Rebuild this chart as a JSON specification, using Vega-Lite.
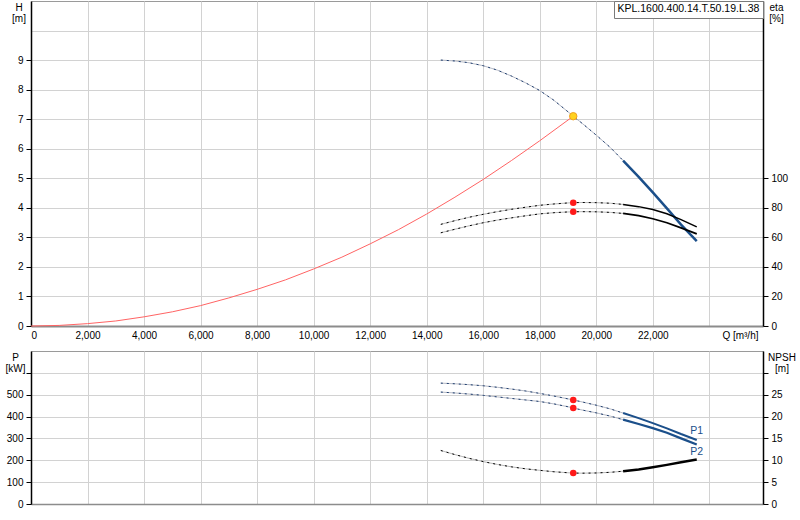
{
  "$schema": "https://vega.github.io/schema/vega-lite/v6.json",
  "background": "white",
  "padding": {"left": 4, "top": 0, "right": 2, "bottom": 2},
  "config": {
    "font": "Liberation Sans",
    "view": {"stroke": "#9a9a9a"},
    "axis": {
      "labelFontSize": 10,
      "labelColor": "#000",
      "titleFontSize": 10,
      "titleFontWeight": "normal",
      "titleColor": "#000",
      "gridColor": "#d2d2d2",
      "gridWidth": 1,
      "tickColor": "#000",
      "tickSize": 5,
      "domainColor": "#000",
      "domainWidth": 1.5
    }
  },
  "datasets": {
    "system": [
      {"Q": 0, "H": 0}, {"Q": 1000, "H": 0.02}, {"Q": 2000, "H": 0.08}, {"Q": 3000, "H": 0.17},
      {"Q": 4000, "H": 0.31}, {"Q": 5000, "H": 0.48}, {"Q": 6000, "H": 0.69}, {"Q": 7000, "H": 0.95},
      {"Q": 8000, "H": 1.24}, {"Q": 9000, "H": 1.56}, {"Q": 10000, "H": 1.93}, {"Q": 11000, "H": 2.33},
      {"Q": 12000, "H": 2.78}, {"Q": 13000, "H": 3.26}, {"Q": 14000, "H": 3.79}, {"Q": 15000, "H": 4.36},
      {"Q": 16000, "H": 4.96}, {"Q": 17000, "H": 5.6}, {"Q": 18000, "H": 6.27}, {"Q": 19186, "H": 7.1}
    ],
    "head": [
      {"Q": 14500, "H": 9.0, "part": "dashed"}, {"Q": 15000, "H": 8.97, "part": "dashed"},
      {"Q": 15500, "H": 8.91, "part": "dashed"}, {"Q": 16000, "H": 8.81, "part": "dashed"},
      {"Q": 16500, "H": 8.66, "part": "dashed"}, {"Q": 17000, "H": 8.46, "part": "dashed"},
      {"Q": 17500, "H": 8.23, "part": "dashed"}, {"Q": 18000, "H": 7.97, "part": "dashed"},
      {"Q": 18500, "H": 7.64, "part": "dashed"}, {"Q": 19000, "H": 7.25, "part": "dashed"},
      {"Q": 19186, "H": 7.1, "part": "dashed"}, {"Q": 19500, "H": 6.86, "part": "dashed"},
      {"Q": 20000, "H": 6.46, "part": "dashed"}, {"Q": 20500, "H": 6.04, "part": "dashed"},
      {"Q": 20950, "H": 5.6, "part": "dashed"},
      {"Q": 20950, "H": 5.6, "part": "solid"}, {"Q": 21500, "H": 5.05, "part": "solid"},
      {"Q": 22000, "H": 4.52, "part": "solid"}, {"Q": 22500, "H": 3.98, "part": "solid"},
      {"Q": 23000, "H": 3.43, "part": "solid"}, {"Q": 23556, "H": 2.87, "part": "solid"}
    ],
    "eta": [
      {"Q": 14500, "eta": 68.8, "curve": "eta1", "part": "dashed"}, {"Q": 15000, "eta": 71.3, "curve": "eta1", "part": "dashed"},
      {"Q": 15500, "eta": 73.6, "curve": "eta1", "part": "dashed"}, {"Q": 16000, "eta": 75.6, "curve": "eta1", "part": "dashed"},
      {"Q": 16500, "eta": 77.4, "curve": "eta1", "part": "dashed"}, {"Q": 17000, "eta": 79.0, "curve": "eta1", "part": "dashed"},
      {"Q": 17500, "eta": 80.4, "curve": "eta1", "part": "dashed"}, {"Q": 18000, "eta": 81.7, "curve": "eta1", "part": "dashed"},
      {"Q": 18500, "eta": 82.6, "curve": "eta1", "part": "dashed"}, {"Q": 19000, "eta": 83.3, "curve": "eta1", "part": "dashed"},
      {"Q": 19186, "eta": 83.5, "curve": "eta1", "part": "dashed"}, {"Q": 19500, "eta": 83.6, "curve": "eta1", "part": "dashed"},
      {"Q": 20000, "eta": 83.5, "curve": "eta1", "part": "dashed"}, {"Q": 20500, "eta": 83.1, "curve": "eta1", "part": "dashed"},
      {"Q": 20950, "eta": 82.3, "curve": "eta1", "part": "dashed"},
      {"Q": 20950, "eta": 82.3, "curve": "eta1", "part": "solid"}, {"Q": 21500, "eta": 80.8, "curve": "eta1", "part": "solid"},
      {"Q": 22000, "eta": 78.9, "curve": "eta1", "part": "solid"}, {"Q": 22500, "eta": 76.0, "curve": "eta1", "part": "solid"},
      {"Q": 23000, "eta": 72.0, "curve": "eta1", "part": "solid"}, {"Q": 23556, "eta": 67.1, "curve": "eta1", "part": "solid"},
      {"Q": 14500, "eta": 63.1, "curve": "eta2", "part": "dashed"}, {"Q": 15000, "eta": 65.5, "curve": "eta2", "part": "dashed"},
      {"Q": 15500, "eta": 67.8, "curve": "eta2", "part": "dashed"}, {"Q": 16000, "eta": 69.9, "curve": "eta2", "part": "dashed"},
      {"Q": 16500, "eta": 71.7, "curve": "eta2", "part": "dashed"}, {"Q": 17000, "eta": 73.2, "curve": "eta2", "part": "dashed"},
      {"Q": 17500, "eta": 74.6, "curve": "eta2", "part": "dashed"}, {"Q": 18000, "eta": 75.9, "curve": "eta2", "part": "dashed"},
      {"Q": 18500, "eta": 76.7, "curve": "eta2", "part": "dashed"}, {"Q": 19000, "eta": 77.2, "curve": "eta2", "part": "dashed"},
      {"Q": 19186, "eta": 77.3, "curve": "eta2", "part": "dashed"}, {"Q": 19500, "eta": 77.4, "curve": "eta2", "part": "dashed"},
      {"Q": 20000, "eta": 77.3, "curve": "eta2", "part": "dashed"}, {"Q": 20500, "eta": 76.9, "curve": "eta2", "part": "dashed"},
      {"Q": 20950, "eta": 76.2, "curve": "eta2", "part": "dashed"},
      {"Q": 20950, "eta": 76.2, "curve": "eta2", "part": "solid"}, {"Q": 21500, "eta": 74.7, "curve": "eta2", "part": "solid"},
      {"Q": 22000, "eta": 72.6, "curve": "eta2", "part": "solid"}, {"Q": 22500, "eta": 69.9, "curve": "eta2", "part": "solid"},
      {"Q": 23000, "eta": 66.4, "curve": "eta2", "part": "solid"}, {"Q": 23556, "eta": 62.4, "curve": "eta2", "part": "solid"}
    ],
    "power": [
      {"Q": 14500, "P": 553, "curve": "P1", "part": "dashed"}, {"Q": 15000, "P": 550, "curve": "P1", "part": "dashed"},
      {"Q": 15500, "P": 546, "curve": "P1", "part": "dashed"}, {"Q": 16000, "P": 541, "curve": "P1", "part": "dashed"},
      {"Q": 16500, "P": 534, "curve": "P1", "part": "dashed"}, {"Q": 17000, "P": 526, "curve": "P1", "part": "dashed"},
      {"Q": 17500, "P": 517, "curve": "P1", "part": "dashed"}, {"Q": 18000, "P": 506, "curve": "P1", "part": "dashed"},
      {"Q": 18500, "P": 494, "curve": "P1", "part": "dashed"}, {"Q": 19000, "P": 481, "curve": "P1", "part": "dashed"},
      {"Q": 19186, "P": 476, "curve": "P1", "part": "dashed"}, {"Q": 19500, "P": 467, "curve": "P1", "part": "dashed"},
      {"Q": 20000, "P": 452, "curve": "P1", "part": "dashed"}, {"Q": 20500, "P": 435, "curve": "P1", "part": "dashed"},
      {"Q": 20950, "P": 416, "curve": "P1", "part": "dashed"},
      {"Q": 20950, "P": 416, "curve": "P1", "part": "solid"}, {"Q": 21500, "P": 393, "curve": "P1", "part": "solid"},
      {"Q": 22000, "P": 370, "curve": "P1", "part": "solid"}, {"Q": 22500, "P": 346, "curve": "P1", "part": "solid"},
      {"Q": 23000, "P": 320, "curve": "P1", "part": "solid"}, {"Q": 23556, "P": 293, "curve": "P1", "part": "solid"},
      {"Q": 14500, "P": 512, "curve": "P2", "part": "dashed"}, {"Q": 15000, "P": 508, "curve": "P2", "part": "dashed"},
      {"Q": 15500, "P": 503, "curve": "P2", "part": "dashed"}, {"Q": 16000, "P": 497, "curve": "P2", "part": "dashed"},
      {"Q": 16500, "P": 490, "curve": "P2", "part": "dashed"}, {"Q": 17000, "P": 483, "curve": "P2", "part": "dashed"},
      {"Q": 17500, "P": 476, "curve": "P2", "part": "dashed"}, {"Q": 18000, "P": 469, "curve": "P2", "part": "dashed"},
      {"Q": 18500, "P": 458, "curve": "P2", "part": "dashed"}, {"Q": 19000, "P": 445, "curve": "P2", "part": "dashed"},
      {"Q": 19186, "P": 439, "curve": "P2", "part": "dashed"}, {"Q": 19500, "P": 430, "curve": "P2", "part": "dashed"},
      {"Q": 20000, "P": 417, "curve": "P2", "part": "dashed"}, {"Q": 20500, "P": 402, "curve": "P2", "part": "dashed"},
      {"Q": 20950, "P": 386, "curve": "P2", "part": "dashed"},
      {"Q": 20950, "P": 386, "curve": "P2", "part": "solid"}, {"Q": 21500, "P": 366, "curve": "P2", "part": "solid"},
      {"Q": 22000, "P": 347, "curve": "P2", "part": "solid"}, {"Q": 22500, "P": 326, "curve": "P2", "part": "solid"},
      {"Q": 23000, "P": 300, "curve": "P2", "part": "solid"}, {"Q": 23556, "P": 272, "curve": "P2", "part": "solid"}
    ],
    "npsh": [
      {"Q": 14500, "NPSH": 12.24, "part": "dashed"}, {"Q": 15000, "NPSH": 11.3, "part": "dashed"},
      {"Q": 15500, "NPSH": 10.45, "part": "dashed"}, {"Q": 16000, "NPSH": 9.7, "part": "dashed"},
      {"Q": 16500, "NPSH": 9.05, "part": "dashed"}, {"Q": 17000, "NPSH": 8.5, "part": "dashed"},
      {"Q": 17500, "NPSH": 8.05, "part": "dashed"}, {"Q": 18000, "NPSH": 7.7, "part": "dashed"},
      {"Q": 18500, "NPSH": 7.38, "part": "dashed"}, {"Q": 19000, "NPSH": 7.15, "part": "dashed"},
      {"Q": 19186, "NPSH": 7.08, "part": "dashed"}, {"Q": 19500, "NPSH": 7.05, "part": "dashed"},
      {"Q": 20000, "NPSH": 7.1, "part": "dashed"}, {"Q": 20500, "NPSH": 7.25, "part": "dashed"},
      {"Q": 20950, "NPSH": 7.5, "part": "dashed"},
      {"Q": 20950, "NPSH": 7.5, "part": "solid"}, {"Q": 21500, "NPSH": 7.9, "part": "solid"},
      {"Q": 22000, "NPSH": 8.4, "part": "solid"}, {"Q": 22500, "NPSH": 8.95, "part": "solid"},
      {"Q": 23000, "NPSH": 9.55, "part": "solid"}, {"Q": 23556, "NPSH": 10.2, "part": "solid"}
    ],
    "duty": [
      {"Q": 19186, "H": 7.1, "eta1": 83.5, "eta2": 77.3, "P1": 476, "P2": 439, "NPSH": 7.08, "model": "KPL.1600.400.14.T.50.19.L.38"}
    ]
  },
  "spacing": 25,
  "bounds": "flush",
  "resolve": {"scale": {"x": "independent", "y": "independent"}, "legend": {"shape": "independent"}},
  "vconcat": [
    {
      "width": 732,
      "height": 325,
      "encoding": {
        "x": {
          "field": "Q",
          "type": "quantitative",
          "scale": {"domain": [0, 25900], "nice": false, "zero": false},
          "axis": {
            "values": [0, 2000, 4000, 6000, 8000, 10000, 12000, 14000, 16000, 18000, 20000, 22000, 24000],
            "format": ",.0f",
            "labelExpr": "datum.value == 24000 ? '' : datum.label",
            "ticks": false,
            "labelPadding": 4,
            "domainColor": "#8c8c8c",
            "domainWidth": 2,
            "title": "Q [m³/h]",
            "titleX": 727,
            "titleY": 4,
            "titleAlign": "right",
            "titleBaseline": "top"
          }
        }
      },
      "layer": [
        {
          "encoding": {
            "y": {
              "field": "H",
              "type": "quantitative",
              "scale": {"domain": [0, 11], "nice": false},
              "axis": {
                "values": [0, 1, 2, 3, 4, 5, 6, 7, 8, 9, 10],
                "labelExpr": "datum.value == 10 ? '' : datum.label",
                "tickOpacity": {"condition": {"test": "datum.value == 10", "value": 0}, "value": 1},
                "labelPadding": 3,
                "title": ["H", "[m]"],
                "titleAngle": 0,
                "titleX": -12.5,
                "titleY": 1,
                "titleAlign": "center",
                "titleBaseline": "top",
                "titleLineHeight": 11.5
              }
            }
          },
          "layer": [
            {
              "data": {"name": "system"},
              "mark": {"type": "line", "color": "#ff6464", "strokeWidth": 1}
            },
            {
              "data": {"name": "head"},
              "transform": [{"filter": "datum.part == 'dashed'"}],
              "mark": {"type": "line", "color": "#b6bac6", "strokeWidth": 1}
            },
            {
              "data": {"name": "head"},
              "transform": [{"filter": "datum.part == 'dashed'"}],
              "mark": {"type": "line", "color": "#1f3f70", "strokeWidth": 1, "strokeDash": [2, 4]}
            },
            {
              "data": {"name": "head"},
              "transform": [{"filter": "datum.part == 'solid'"}],
              "mark": {"type": "line", "color": "#1b4f8a", "strokeWidth": 2.5}
            },
            {
              "data": {"name": "duty"},
              "mark": {"type": "point", "filled": true, "fill": "#ffd21f", "stroke": "#f0a020", "strokeWidth": 1, "size": 55, "opacity": 1},
              "encoding": {
                "shape": {
                  "field": "model",
                  "type": "nominal",
                  "scale": {"range": ["circle"]},
                  "legend": {
                    "title": null,
                    "orient": "top-right",
                    "offset": 0,
                    "padding": 3,
                    "strokeColor": "#7a7a7a",
                    "fillColor": "#ffffff",
                    "symbolSize": 0.01,
                    "symbolOpacity": 0,
                    "symbolStrokeWidth": 0.01,
                    "labelOffset": -10,
                    "labelFontSize": 10.5,
                    "labelLimit": 400,
                    "labelColor": "#000",
                    "encode": {"symbols": {"update": {"size": {"value": 0}, "opacity": {"value": 0}}}}
                  }
                }
              }
            }
          ]
        },
        {
          "encoding": {
            "y": {
              "field": "eta",
              "type": "quantitative",
              "scale": {"domain": [0, 220], "nice": false},
              "axis": {
                "orient": "right",
                "values": [0, 20, 40, 60, 80, 100],
                "grid": false,
                "labelPadding": 3,
                "title": ["eta", "[%]"],
                "titleAngle": 0,
                "titleX": 13,
                "titleY": 1,
                "titleAlign": "center",
                "titleBaseline": "top",
                "titleLineHeight": 11.5
              }
            }
          },
          "layer": [
            {
              "data": {"name": "eta"},
              "transform": [{"filter": "datum.part == 'dashed'"}],
              "mark": {"type": "line", "color": "#b8b8b8", "strokeWidth": 1},
              "encoding": {"detail": {"field": "curve"}}
            },
            {
              "data": {"name": "eta"},
              "transform": [{"filter": "datum.part == 'dashed'"}],
              "mark": {"type": "line", "color": "#000", "strokeWidth": 1, "strokeDash": [2, 4]},
              "encoding": {"detail": {"field": "curve"}}
            },
            {
              "data": {"name": "eta"},
              "transform": [{"filter": "datum.part == 'solid'"}],
              "mark": {"type": "line", "color": "#000"},
              "encoding": {
                "detail": {"field": "curve"},
                "strokeWidth": {"field": "curve", "type": "nominal", "scale": {"domain": ["eta1", "eta2"], "range": [1.5, 2.3]}, "legend": null}
              }
            },
            {
              "data": {"name": "duty"},
              "transform": [{"fold": ["eta1", "eta2"], "as": ["curve", "eta"]}],
              "mark": {"type": "point", "filled": true, "color": "#ff1a1a", "size": 42, "opacity": 1}
            }
          ]
        }
      ],
      "resolve": {"scale": {"y": "independent"}}
    },
    {
      "width": 732,
      "height": 153,
      "encoding": {
        "x": {
          "field": "Q",
          "type": "quantitative",
          "scale": {"domain": [0, 25900], "nice": false, "zero": false},
          "axis": {
            "values": [0, 2000, 4000, 6000, 8000, 10000, 12000, 14000, 16000, 18000, 20000, 22000, 24000],
            "labels": false,
            "ticks": false,
            "domainColor": "#8c8c8c",
            "domainWidth": 1.5,
            "title": null
          }
        }
      },
      "layer": [
        {
          "encoding": {
            "y": {
              "field": "P",
              "type": "quantitative",
              "scale": {"domain": [0, 700], "nice": false},
              "axis": {
                "values": [0, 100, 200, 300, 400, 500, 600],
                "labelExpr": "datum.value == 600 ? '' : datum.label",
                "labelPadding": 3,
                "title": ["P", "[kW]"],
                "titleAngle": 0,
                "titleX": -16,
                "titleY": 1,
                "titleAlign": "center",
                "titleBaseline": "top",
                "titleLineHeight": 11.5
              }
            }
          },
          "layer": [
            {
              "data": {"name": "power"},
              "transform": [{"filter": "datum.part == 'dashed'"}],
              "mark": {"type": "line", "color": "#b6bac6", "strokeWidth": 1},
              "encoding": {"detail": {"field": "curve"}}
            },
            {
              "data": {"name": "power"},
              "transform": [{"filter": "datum.part == 'dashed'"}],
              "mark": {"type": "line", "color": "#1f3f70", "strokeWidth": 1, "strokeDash": [2, 4]},
              "encoding": {"detail": {"field": "curve"}}
            },
            {
              "data": {"name": "power"},
              "transform": [{"filter": "datum.part == 'solid'"}],
              "mark": {"type": "line", "color": "#1b4f8a"},
              "encoding": {
                "detail": {"field": "curve"},
                "strokeWidth": {"field": "curve", "type": "nominal", "scale": {"domain": ["P1", "P2"], "range": [2.5, 1.5]}, "legend": null}
              }
            },
            {
              "data": {"name": "duty"},
              "transform": [{"fold": ["P1", "P2"], "as": ["curve", "P"]}],
              "mark": {"type": "point", "filled": true, "color": "#ff1a1a", "size": 42, "opacity": 1}
            },
            {
              "data": {"name": "power"},
              "transform": [{"filter": "datum.curve == 'P1' && datum.Q == 23556"}],
              "mark": {"type": "text", "color": "#1b4f8a", "fontSize": 10.5, "align": "center", "baseline": "middle", "dy": -9},
              "encoding": {"text": {"field": "curve"}}
            },
            {
              "data": {"name": "power"},
              "transform": [{"filter": "datum.curve == 'P2' && datum.Q == 23556"}],
              "mark": {"type": "text", "color": "#1b4f8a", "fontSize": 10.5, "align": "center", "baseline": "middle", "dy": 7},
              "encoding": {"text": {"field": "curve"}}
            }
          ]
        },
        {
          "encoding": {
            "y": {
              "field": "NPSH",
              "type": "quantitative",
              "scale": {"domain": [0, 35], "nice": false},
              "axis": {
                "orient": "right",
                "values": [0, 5, 10, 15, 20, 25, 30],
                "labelExpr": "datum.value == 30 ? '' : datum.label",
                "grid": false,
                "labelPadding": 3,
                "title": ["NPSH", "[m]"],
                "titleAngle": 0,
                "titleX": 18.5,
                "titleY": 1,
                "titleAlign": "center",
                "titleBaseline": "top",
                "titleLineHeight": 11.5
              }
            }
          },
          "layer": [
            {
              "data": {"name": "npsh"},
              "transform": [{"filter": "datum.part == 'dashed'"}],
              "mark": {"type": "line", "color": "#b8b8b8", "strokeWidth": 1}
            },
            {
              "data": {"name": "npsh"},
              "transform": [{"filter": "datum.part == 'dashed'"}],
              "mark": {"type": "line", "color": "#000", "strokeWidth": 1, "strokeDash": [2, 4]}
            },
            {
              "data": {"name": "npsh"},
              "transform": [{"filter": "datum.part == 'solid'"}],
              "mark": {"type": "line", "color": "#000", "strokeWidth": 2.5}
            },
            {
              "data": {"name": "duty"},
              "mark": {"type": "point", "filled": true, "color": "#ff1a1a", "size": 42, "opacity": 1}
            }
          ]
        }
      ],
      "resolve": {"scale": {"y": "independent"}}
    }
  ]
}
